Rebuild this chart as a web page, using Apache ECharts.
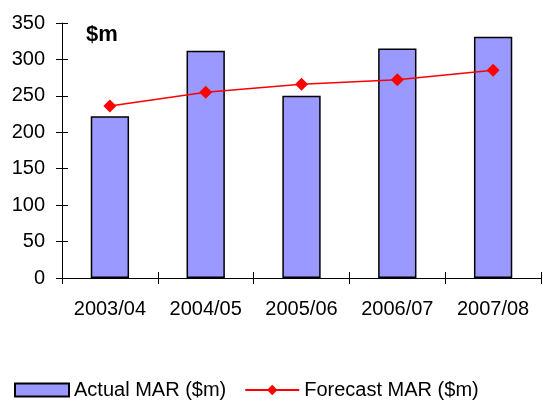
<!DOCTYPE html>
<html>
<head>
<meta charset="utf-8">
<script src="https://cdn.jsdelivr.net/npm/echarts@6/dist/echarts.min.js"></script>
<style>
  html, body { margin: 0; padding: 0; background: #fff; }
  #chart { width: 543px; height: 403px; }
</style>
</head>
<body>
<div id="chart"></div>
<script>
// Financial years and MAR figures ($m)
const years = ['2003/04', '2004/05', '2005/06', '2006/07', '2007/08'];
const actualMAR = [222, 312, 250, 315, 331];
const forecastMAR = [236, 255, 266, 272, 285];
const yTicks = { min: 0, max: 350, interval: 50 };

const font = 'Liberation Sans, Arial, sans-serif';
const chart = echarts.init(document.getElementById('chart'));

const tickStyle = { color: '#000', width: 1 };

chart.setOption({
  animation: false,
  backgroundColor: '#fff',
  title: {
    text: '$m',
    left: 81,
    top: 19,
    textStyle: { fontFamily: font, fontWeight: 'bold', fontSize: 22, color: '#000' }
  },
  grid: { left: 62, right: 2, top: 23, bottom: 125, containLabel: false },
  legend: {
    top: 378,
    left: 12,
    padding: 2,
    itemWidth: 54,
    itemHeight: 13,
    itemGap: 18,
    textStyle: { fontFamily: font, fontSize: 20, color: '#000' },
    data: [
      { name: 'Actual MAR ($m)', icon: 'rect' },
      { name: 'Forecast MAR ($m)' }
    ]
  },
  xAxis: [
    {
      type: 'category',
      data: years,
      boundaryGap: true,
      axisLine: { lineStyle: { color: '#000', width: 1 } },
      axisTick: { show: true, length: 6, interval: 0, lineStyle: tickStyle },
      axisLabel: { fontFamily: font, fontSize: 20, color: '#000', margin: 21 }
    },
    {
      // inner half of the crossing category ticks
      type: 'category',
      data: years,
      position: 'bottom',
      boundaryGap: true,
      axisLine: { show: false },
      axisTick: { show: true, inside: true, length: 6, interval: 0, lineStyle: tickStyle },
      axisLabel: { show: false }
    }
  ],
  yAxis: [
    {
      type: 'value',
      min: yTicks.min, max: yTicks.max, interval: yTicks.interval,
      axisLine: { show: true, lineStyle: { color: '#000', width: 1 } },
      axisTick: { show: true, length: 6, lineStyle: tickStyle },
      splitLine: { show: false },
      axisLabel: { fontFamily: font, fontSize: 20, color: '#000', margin: 17 }
    },
    {
      // inner half of the crossing value ticks
      type: 'value',
      position: 'left',
      min: yTicks.min, max: yTicks.max, interval: yTicks.interval,
      axisLine: { show: false },
      axisTick: { show: true, inside: true, length: 6, lineStyle: tickStyle },
      splitLine: { show: false },
      axisLabel: { show: false }
    }
  ],
  series: [
    {
      name: 'Actual MAR ($m)',
      type: 'bar',
      data: actualMAR,
      barWidth: '40%',
      itemStyle: { color: '#9999FF', borderColor: '#000', borderWidth: 1.5 }
    },
    {
      name: 'Forecast MAR ($m)',
      type: 'line',
      data: forecastMAR,
      symbol: 'diamond',
      symbolSize: 13,
      lineStyle: { color: '#FF0000', width: 1.5 },
      itemStyle: { color: '#FF0000' }
    }
  ]
});
</script>
</body>
</html>
